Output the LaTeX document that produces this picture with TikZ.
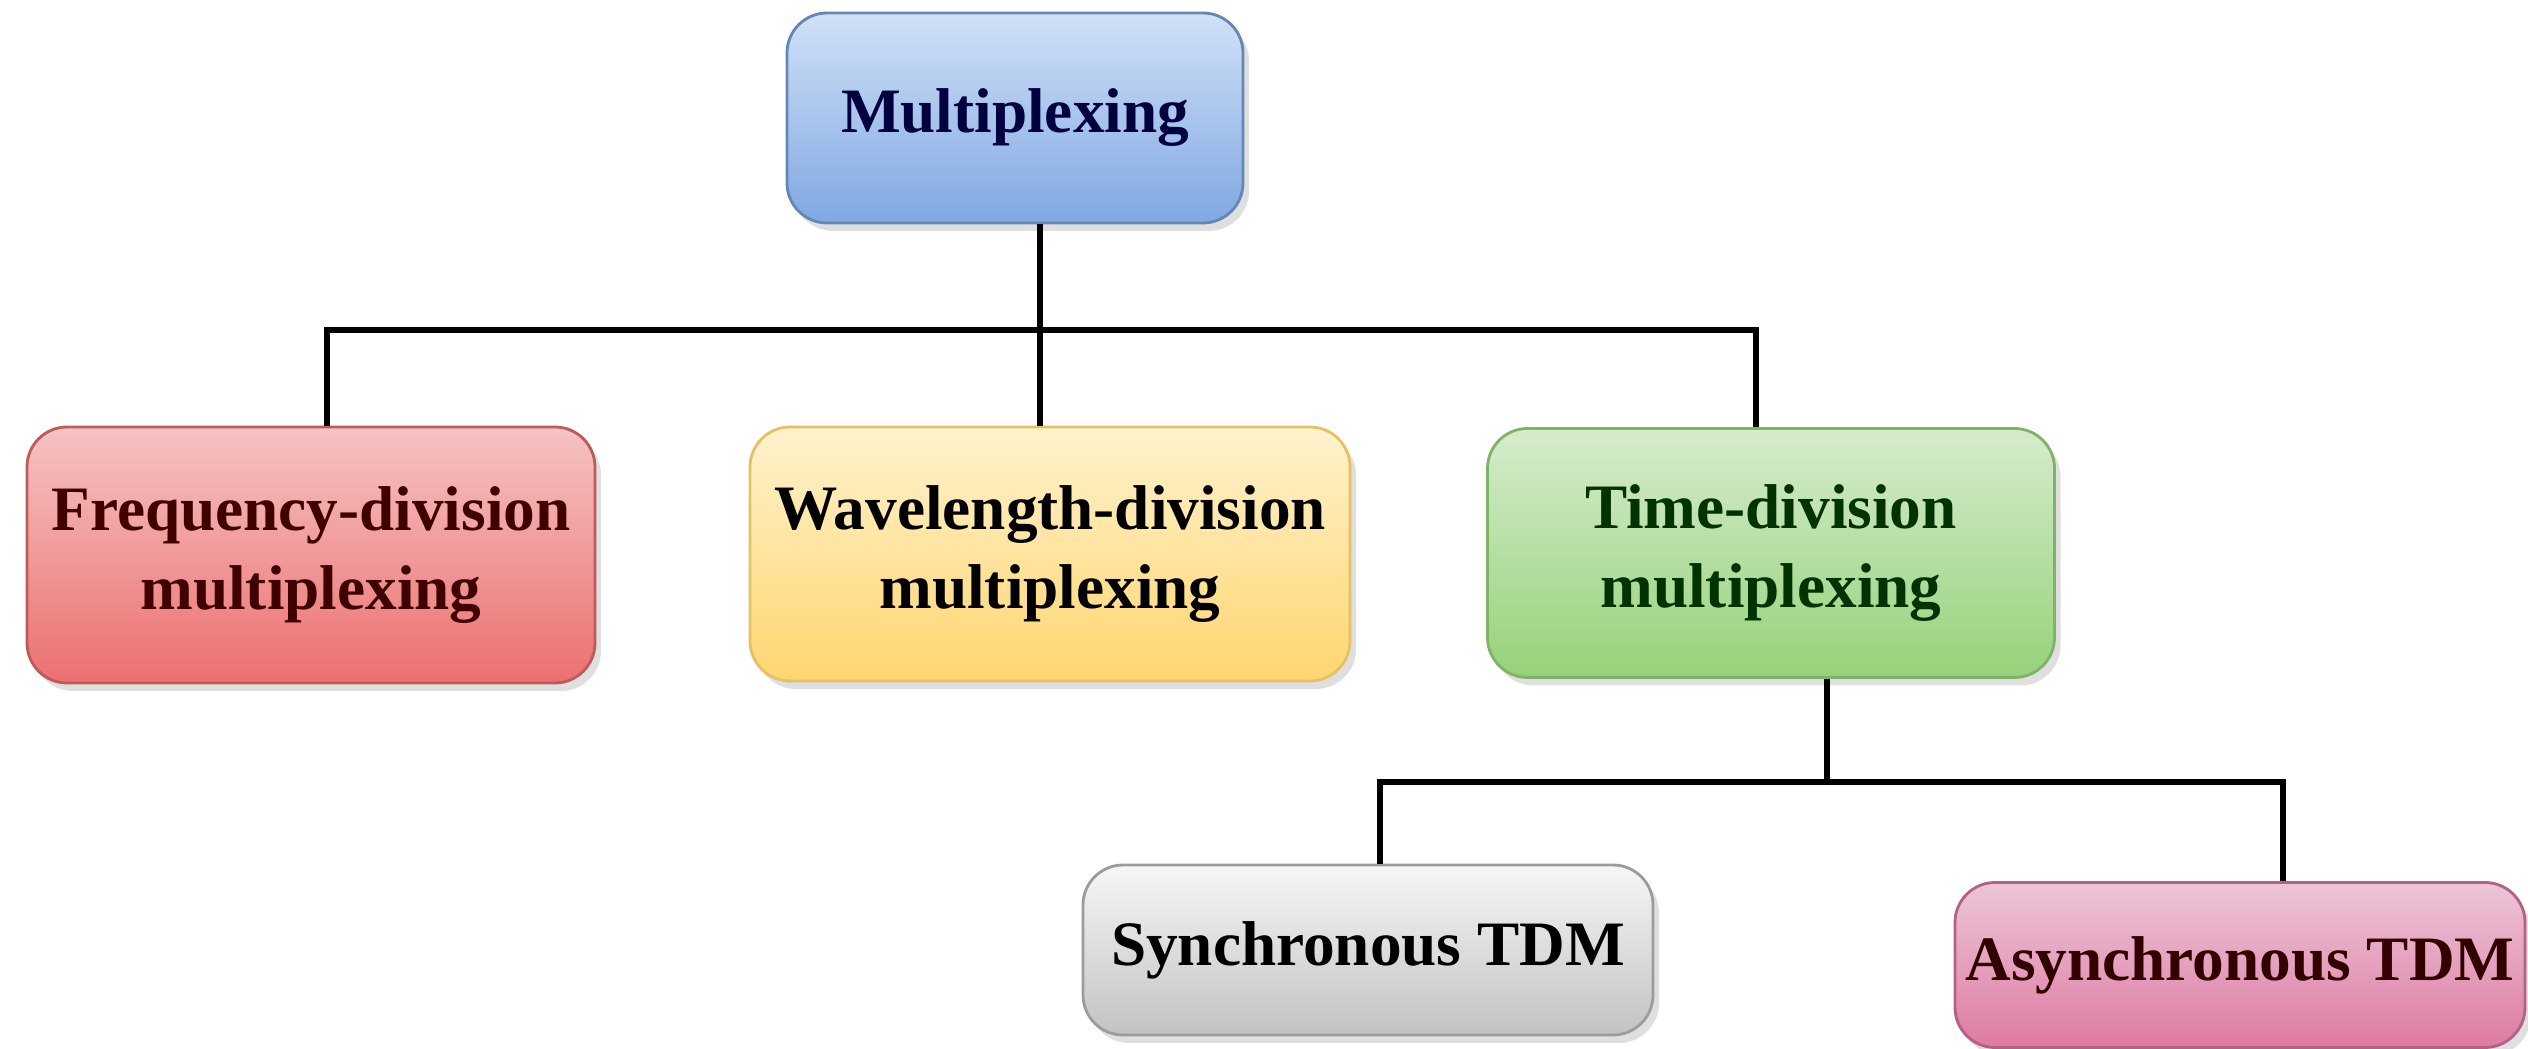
\documentclass[tikz,border=0pt]{standalone}
\usepackage{fontspec}
\setmainfont{Liberation Serif}
\usepackage{tikz}
\usetikzlibrary{shadows}
\definecolor{bluetop}{RGB}{208,225,247}
\definecolor{bluebot}{RGB}{128,168,226}
\definecolor{redtop}{RGB}{246,195,195}
\definecolor{redbot}{RGB}{236,112,112}
\definecolor{yeltop}{RGB}{255,242,205}
\definecolor{yelbot}{RGB}{255,214,112}
\definecolor{grntop}{RGB}{214,236,204}
\definecolor{grnbot}{RGB}{150,210,122}
\definecolor{grytop}{RGB}{246,246,246}
\definecolor{grybot}{RGB}{195,195,195}
\definecolor{pnktop}{RGB}{236,198,216}
\definecolor{pnkbot}{RGB}{222,122,162}
\tikzset{
    box/.style={rectangle,rounded corners=4mm,draw=black!35,line width=0.8pt,
        align=center,font=\fontsize{18}{22.7}\selectfont\bfseries,
        drop shadow={opacity=0.25,shadow xshift=0.6mm,shadow yshift=-0.8mm},
        inner sep=0pt},
    tree/.style={line width=1.5pt,black}
}

\begin{document}
\begin{tikzpicture}
    \useasboundingbox (0,0) rectangle (25.28,-10.49);
    \node[box,top color=bluetop,bottom color=bluebot,draw=bluebot!80!black,minimum width=4.56cm,minimum height=2.10cm,text=blue!25!black] (mux) at (10.15,-1.18) {Multiplexing};
    \node[box,top color=redtop,bottom color=redbot,draw=redbot!80!black,minimum width=5.68cm,minimum height=2.56cm,text=red!25!black] (fdm) at (3.11,-5.55) {Frequency-division\\multiplexing};
    \node[box,top color=yeltop,bottom color=yelbot,draw=yelbot!90!black,minimum width=6.00cm,minimum height=2.54cm,text=black] (wdm) at (10.50,-5.54) {Wavelength-division\\multiplexing};
    \node[box,top color=grntop,bottom color=grnbot,draw=grnbot!85!black,minimum width=5.67cm,minimum height=2.49cm,text=green!20!black] (tdm) at (17.71,-5.53) {Time-division\\multiplexing};
    \node[box,top color=grytop,bottom color=grybot,draw=grybot!80!black,minimum width=5.70cm,minimum height=1.70cm,text=black] (sync) at (13.68,-9.50) {Synchronous TDM};
    \node[box,top color=pnktop,bottom color=pnkbot,draw=pnkbot!80!black,minimum width=5.70cm,minimum height=1.65cm,text=red!20!black] (async) at (22.40,-9.65) {Asynchronous TDM};
    \coordinate (bar) at (10.40,-3.30);
    \coordinate (subbar) at (18.27,-7.82);
    \draw[tree] (mux.south -| bar) -- (bar);
    \draw[tree] ([xshift=1.6mm]fdm.north) -- ([xshift=1.6mm]fdm.north |- bar) -- ([xshift=-1.5mm]tdm.north |- bar) -- ([xshift=-1.5mm]tdm.north);
    \draw[tree] (bar) -- (bar |- wdm.north);
    \draw[tree] (tdm.south -| subbar) -- (subbar);
    \draw[tree] ([xshift=1.2mm]sync.north) -- ([xshift=1.2mm]sync.north |- subbar) -- ([xshift=4.3mm]async.north |- subbar) -- ([xshift=4.3mm]async.north);
\end{tikzpicture}
\end{document}
